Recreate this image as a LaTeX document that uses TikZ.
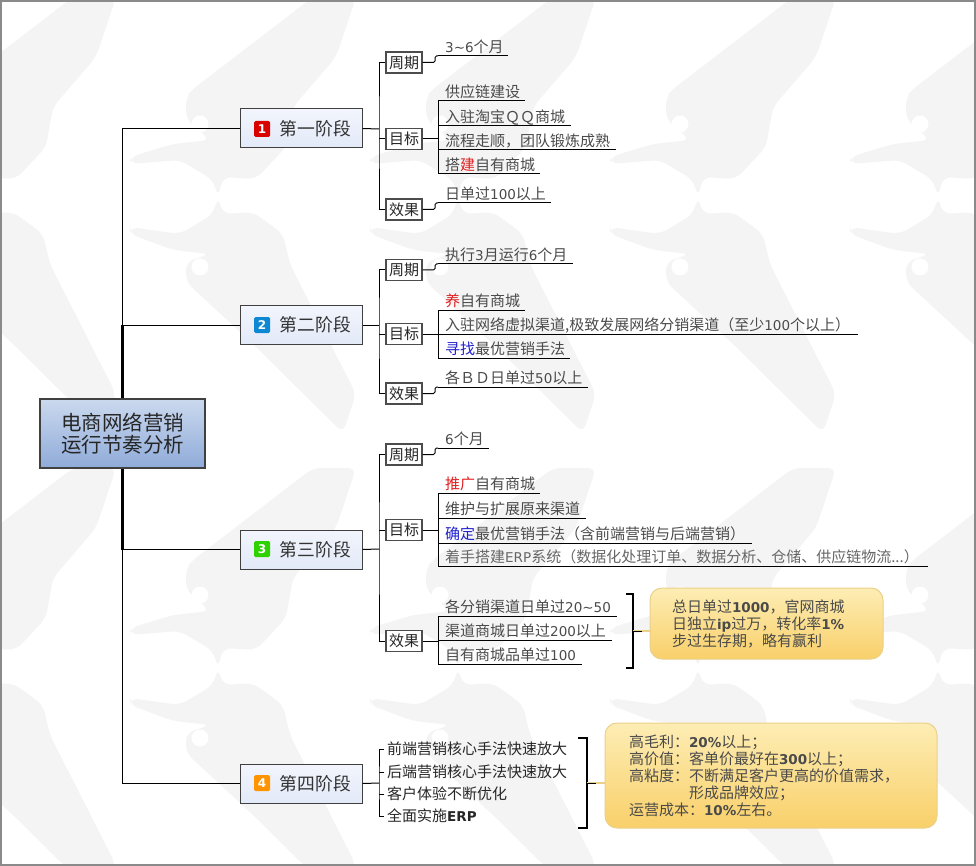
\documentclass[tikz,border=0pt]{standalone}
\usepackage{fontspec}
\setmainfont{Noto Sans CJK SC}
\newfontfamily\latfont{DejaVu Sans}
\usetikzlibrary{positioning}

\definecolor{markgray}{HTML}{F4F4F4}
\definecolor{framegray}{HTML}{8A8A8A}
\definecolor{leafgray}{HTML}{4A4A4A}
\definecolor{tagred}{HTML}{E02020}
\definecolor{tagblue}{HTML}{2020D0}
\definecolor{roottop}{HTML}{CBD9EE}
\definecolor{rootbot}{HTML}{8FABD9}
\definecolor{stagetop}{HTML}{F2F5FC}
\definecolor{stagebot}{HTML}{E2E9F8}
\definecolor{notetop}{HTML}{FDEDB4}
\definecolor{notebot}{HTML}{F9D06A}
\definecolor{noteline}{HTML}{EBD08A}
\newcommand{\dg}[1]{{\latfont\fontsize{13.5}{15}\selectfont #1}}
\newcommand{\bdg}[1]{{\latfont\bfseries\fontsize{13.5}{15}\selectfont #1}}

\tikzset{
  root/.style={draw=black!75, line width=1.2pt, top color=roottop, middle color=rootbot, bottom color=rootbot, minimum width=165pt, minimum height=69pt, inner sep=0pt, align=center, text=black!85, font=\fontsize{20.5}{22.5}\selectfont},
  stage/.style={draw=black!75, line width=1pt, top color=stagetop, bottom color=stagebot, minimum width=121pt, minimum height=39pt, inner xsep=11pt, inner ysep=0pt, text=black!80, font=\fontsize{17.8}{20}\selectfont},
  badge/.style={rounded corners=1.5pt, minimum size=16pt, inner sep=0pt, text=white, font=\latfont\bfseries\fontsize{12}{13}\selectfont},
  sub/.style={draw=black!70, line width=1.2pt, fill=white, minimum width=36pt, minimum height=21pt, inner sep=0pt, text=black!85, font=\fontsize{15}{17}\selectfont},
  leaf/.style={anchor=south west, inner xsep=7pt, inner ysep=1pt, text width=#1pt, text height=11.5pt, text depth=2pt, align=left, text=leafgray, font=\fontsize{15}{17}\selectfont},
  item/.style={anchor=west, inner xsep=3pt, inner ysep=0pt, text=black!85, font=\fontsize{15}{17}\selectfont},
  note/.style={draw=noteline, line width=1pt, rounded corners=12pt, top color=notetop, bottom color=notebot, inner ysep=0pt, align=left, text=leafgray, font=\fontsize{15}{17}\selectfont},
  line/.style={line width=1pt, black},
  brace/.style={line width=2pt, black}
}

\begin{document}
\begin{tikzpicture}[x=1pt, y=-1pt]
  \useasboundingbox (0,0) rectangle (976,866);

  % watermark
  \begin{scope}
    \clip (0,0) rectangle (976,866);
    \foreach \bx/\by in {-22/197,218/197,458/197,698/197,938/197,-22/668,218/668,458/668,698/668,938/668}{
      \fill[markgray, rounded corners=8pt, shift={(\bx,\by)}] (0,0) -- (-5,-17) -- (-38,-37) -- (-88,-33) -- (-88,-40) -- (-45,-53) -- (-8,-57) -- (-32,-78) -- (-32,-100) -- (-25,-108) -- (95,-200) -- (138,-200) -- (118,-140) -- (75,-90) -- (68,-50) -- (38,-18) -- (5,-20) -- cycle;
      \fill[white, shift={(\bx,\by)}] (-18,-73) circle (8.5);
      \fill[markgray, rounded corners=8pt, shift={(\bx,\by)}] (0,0) -- (5,17) -- (35,15) -- (65,37) -- (72,67) -- (138,197) -- (125,236) -- (35,147) -- (-32,85) -- (-32,65) -- (-8,57) -- (-45,53) -- (-88,37) -- (-88,30) -- (-38,37) -- (-5,17) -- cycle;
      \fill[white, shift={(\bx,\by)}] (-18,70) circle (8.5);
    }
  \end{scope}
  \draw[framegray, line width=1.5pt] (1,1) rectangle (975,865);

  % main nodes
  \node[root] (root) at (122.5,433.5) {电商网络营销\\运行节奏分析};
  \node[stage] (s1) at (301.5,128.5) {\hspace*{28pt}第一阶段};
  \node[stage] (s2) at (301.5,325) {\hspace*{28pt}第二阶段};
  \node[stage] (s3) at (301.5,549.5) {\hspace*{28pt}第三阶段};
  \node[stage] (s4) at (301.5,783.5) {\hspace*{28pt}第四阶段};
  \node[badge, fill=red!85!black] (n1) at (262,129) {1};
  \node[badge, fill=cyan!70!blue] (n2) at (262,325) {2};
  \node[badge, fill=green!65!olive] (n3) at (262,549) {3};
  \node[badge, fill=orange!85!yellow] (n4) at (262,783) {4};

  \draw[line, line width=1.5pt] (root.north) |- (s1.west);
  \draw[line, line width=2.5pt] (root.north) -- (root.north |- s2.west);
  \draw[line] (root.north |- s2.west) -- (s2.west);
  \draw[line, line width=3.5pt] (root.south) -- (root.south |- s3.west);
  \draw[line] (root.south |- s3.west) -- (s3.west);
  \draw[line, line width=1.5pt] (root.south) |- (s4.west);

  % first stage
  \coordinate (r1) at (379,129);
  \node[sub] (p1) at (404,62.5) {周期};
  \node[sub] (g1) at (404,139) {目标};
  \node[sub] (e1) at (404,209.5) {效果};
  \node[leaf=56] (l11) at (438,56) {\dg{3\textasciitilde 6}个月};
  \node[leaf=73] (l12) at (438,101) {供应链建设};
  \node[leaf=119] (l13) at (438,126) {入驻淘宝ＱＱ商城};
  \node[leaf=164] (l14) at (438,150) {流程走顺，团队锻炼成熟};
  \node[leaf=88] (l15) at (438,174) {搭\textcolor{tagred}{建}自有商城};
  \node[leaf=99] (l16) at (438,203) {日单过\dg{100}以上};
  \draw[line] (s1.east) -- (r1);
  \draw[line] (p1.west) -| (r1) |- (e1.west);
  \draw[line] (g1.west) -- (g1.west -| r1);
  \draw[line, rounded corners=1.5pt] (p1.east) -| ([xshift=-3pt]l11.south west) -- (l11.south west);
  \draw[line] (g1.east) -- (g1.east -| l12.south west);
  \draw[line] (l12.south west) -- (l15.south west);
  \draw[line, rounded corners=1.5pt] (e1.east) -| ([xshift=-3pt]l16.south west) -- (l16.south west);

  % second stage
  \coordinate (r2) at (379,325);
  \node[sub] (p2) at (404,270) {周期};
  \node[sub] (g2) at (404,334) {目标};
  \node[sub] (e2) at (404,393.5) {效果};
  \node[leaf=121] (l21) at (438,264) {执行\dg{3}月运行\dg{6}个月};
  \node[leaf=73] (l22) at (438,310) {\textcolor{tagred}{养}自有商城};
  \node[leaf=406] (l23) at (438,334) {入驻网络虚拟渠道,极致发展网络分销渠道（至少\dg{100}个以上）};
  \node[leaf=118] (l24) at (438,358) {\textcolor{tagblue}{寻找}最优营销手法};
  \node[leaf=136] (l25) at (438,387) {各ＢＤ日单过\dg{50}以上};
  \draw[line] (s2.east) -- (r2);
  \draw[line] (p2.west) -| (r2) |- (e2.west);
  \draw[line] (g2.west) -- (g2.west -| r2);
  \draw[line, rounded corners=1.5pt] (p2.east) -| ([xshift=-3pt]l21.south west) -- (l21.south west);
  \draw[line] (g2.east) -- (g2.east -| l22.south west);
  \draw[line] (l22.south west) -- (l24.south west);
  \draw[line, rounded corners=1.5pt] (e2.east) -| ([xshift=-3pt]l25.south west) -- (l25.south west);

  % third stage
  \coordinate (r3) at (379,549);
  \node[sub] (p3) at (404,454.5) {周期};
  \node[sub] (g3) at (404,530) {目标};
  \node[sub] (e3) at (404,641) {效果};
  \node[leaf=37] (l31) at (438,448) {\dg{6}个月};
  \node[leaf=88] (l32) at (438,493) {\textcolor{tagred}{推广}自有商城};
  \node[leaf=134] (l33) at (438,518) {维护与扩展原来渠道};
  \node[leaf=300] (l34) at (438,543) {\textcolor{tagblue}{确定}最优营销手法（含前端营销与后端营销）};
  \node[leaf=476] (l35) at (438,566) {\textcolor{black!60}{着手搭建\dg{ERP}系统（数据化处理订单、数据分析、仓储、供应链物流...）}};
  \node[leaf=165] (l36) at (438,616) {各分销渠道日单过\dg{20\textasciitilde 50}};
  \node[leaf=160] (l37) at (438,640) {渠道商城日单过\dg{200}以上};
  \node[leaf=130] (l38) at (438,664) {自有商城品单过\dg{100}};
  \node[note, minimum width=233pt, minimum height=71pt, inner xsep=22pt, text width=189pt] (k1) at (766.5,623.5) {总日单过\bdg{1000}，官网商城\\日独立\bdg{ip}过万，转化率\bdg{1\%}\\步过生存期，略有赢利};
  \draw[line] (s3.east) -- (r3);
  \draw[line] (p3.west) -| (r3) |- (e3.west);
  \draw[line] (g3.west) -- (g3.west -| r3);
  \draw[line, rounded corners=1.5pt] (p3.east) -| ([xshift=-3pt]l31.south west) -- (l31.south west);
  \draw[line] (g3.east) -- (g3.east -| l32.south west);
  \draw[line] (l32.south west) -- (l35.south west);
  \draw[line] (e3.east) -- (e3.east -| l36.south west);
  \draw[line] (l36.south west) -- (l38.south west);
  \coordinate (t1) at (626,594);
  \coordinate (b1) at (626,668);
  \coordinate (j1) at (633,631);
  \draw[brace] (t1) -| (j1) |- (b1);
  \draw[line, noteline, line width=1.5pt] (j1) -- (j1 -| k1.west);
  \draw[line] (j1) -- ++(9,0);

  % fourth stage
  \coordinate (r4) at (379,783);
  \node[item] (c1) at (384,749) {前端营销核心手法快速放大};
  \node[item] (c2) at (384,772) {后端营销核心手法快速放大};
  \node[item] (c3) at (384,794) {客户体验不断优化};
  \node[item] (c4) at (384,816) {全面实施\bdg{ERP}};
  \node[note, minimum width=332pt, minimum height=105pt, inner xsep=24pt, text width=284pt] (k2) at (771,775.5) {高毛利：\bdg{20\%}以上；\\高价值：客单价最好在\bdg{300}以上；\\高粘度：不断满足客户更高的价值需求，\\\hspace*{60pt}形成品牌效应；\\运营成本：\bdg{10\%}左右。};
  \draw[line] (s4.east) -- (r4);
  \draw[line] (c1.west) -| (r4) |- (c4.west);
  \draw[line] (c2.west) -- (c2.west -| r4);
  \draw[line] (c3.west) -- (c3.west -| r4);
  \coordinate (t2) at (578,738);
  \coordinate (b2) at (578,828);
  \coordinate (j2) at (587,783);
  \draw[brace] (t2) -| (j2) |- (b2);
  \draw[line, noteline, line width=1.5pt] (j2) -- (j2 -| k2.west);
  \draw[line] (j2) -- ++(9,0);

  % leaf underlines
  \foreach \n in {l11,l12,l13,l14,l15,l16,l21,l22,l23,l24,l25,l31,l32,l33,l34,l35,l36,l37,l38}{
    \draw[line] (\n.south west) -- (\n.south east);
  }
\end{tikzpicture}
\end{document}
